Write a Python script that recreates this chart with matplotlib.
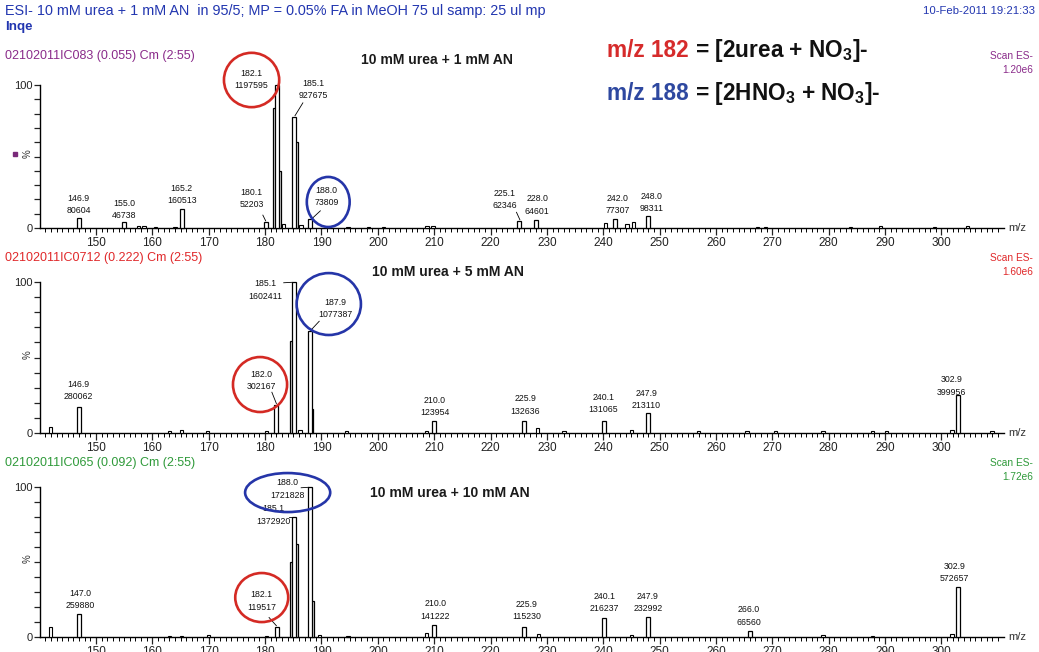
import matplotlib
matplotlib.use('Agg')
import matplotlib.pyplot as plt
from matplotlib.patches import Ellipse

W, H = 1039, 652
plt.rcParams['font.family'] = ['Liberation Sans', 'DejaVu Sans']
plt.rcParams['mathtext.fontset'] = 'custom'
plt.rcParams['mathtext.rm'] = 'Liberation Sans'
plt.rcParams['mathtext.bf'] = 'Liberation Sans:bold'

# ---------------- data ----------------
x_ticks = [150, 160, 170, 180, 190, 200, 210, 220, 230, 240, 250, 260, 270, 280, 290, 300]

p1_mz = [146.9, 155.0, 165.2, 180.1, 182.1, 185.1, 188.0, 225.1, 228.0, 242.0, 248.0]
p1_int = [80604, 46738, 160513, 52203, 1197595, 927675, 73809, 62346, 64601, 77307, 98311]
p1_shoulder_mz = [181.6, 182.6, 185.6]
p1_shoulder_pct = [84, 40, 60]
p1_minor_mz = [157.5, 158.5, 160.5, 164.0, 183.3, 186.4, 194.7, 198.3, 201.0, 208.7, 209.8,
               240.4, 244.2, 245.4, 267.4, 268.8, 283.9, 289.2, 298.8, 304.6]
p1_minor_pct = [1.5, 1.5, 1.0, 1.0, 2.5, 2.0, 1.0, 1.0, 1.0, 1.5, 1.5,
                3.5, 3.0, 4.5, 1.0, 1.0, 1.0, 1.5, 1.0, 1.5]

p2_mz = [146.9, 182.0, 185.1, 187.9, 210.0, 225.9, 240.1, 247.9, 302.9]
p2_int = [280062, 302167, 1602411, 1077387, 123954, 132636, 131065, 213110, 399956]
p2_shoulder_mz = [184.6, 188.4]
p2_shoulder_pct = [61, 16]
p2_minor_mz = [141.9, 163.0, 165.2, 169.8, 180.2, 186.2, 194.4, 208.6, 228.3, 233.0,
               245.0, 256.9, 265.5, 270.6, 279.0, 287.8, 290.2, 301.9, 309.0]
p2_minor_pct = [4.0, 1.5, 2.0, 1.5, 1.5, 2.0, 1.0, 1.5, 3.0, 1.0,
                2.0, 1.0, 1.5, 1.0, 1.0, 1.0, 1.0, 2.0, 1.0]

p3_mz = [147.0, 182.1, 185.1, 188.0, 210.0, 225.9, 240.1, 247.9, 266.0, 302.9]
p3_int = [259880, 119517, 1372920, 1721828, 141222, 115230, 216237, 232992, 66560, 572657]
p3_shoulder_mz = [184.6, 185.6, 188.5]
p3_shoulder_pct = [50, 62, 24]
p3_minor_mz = [141.9, 163.0, 165.2, 170.0, 180.2, 189.7, 194.7, 208.6, 228.5,
               245.0, 279.0, 287.8, 301.9]
p3_minor_pct = [6.5, 1.0, 1.0, 1.5, 1.0, 1.5, 1.0, 3.0, 2.0,
                1.5, 1.5, 1.0, 2.0]

titles = ["10 mM urea + 1 mM AN", "10 mM urea + 5 mM AN", "10 mM urea + 10 mM AN"]
run_ids = ["02102011IC083 (0.055) Cm (2:55)", "02102011IC0712 (0.222) Cm (2:55)",
           "02102011IC065 (0.092) Cm (2:55)"]
scales = ["1.20e6", "1.60e6", "1.72e6"]
header = "ESI- 10 mM urea + 1 mM AN  in 95/5; MP = 0.05% FA in MeOH 75 ul samp: 25 ul mp"
operator = "Inqe"
stamp = "10-Feb-2011 19:21:33"

# ---------------- layout (not data) ----------------
p1_lab = [(146.9, 16.4), (155.0, 12.9), (165.2, 23.4), (177.6, 20.6), (177.6, 104.0),
          (188.6, 96.9), (190.9, 22.0), (222.5, 19.9), (228.3, 16.1), (242.6, 16.4), (248.5, 17.8)]
p1_lead = {3: ((179.6, 9.0), (180.1, 5.0)), 5: ((186.7, 87.5), (185.3, 78.5)),
           6: ((189.8, 12.0), (188.3, 6.5)), 7: ((224.6, 11.0), (225.2, 5.8))}
p1_circ = [((177.6, 103.5), 9.8, 38, '#d42a24'), ((191.2, 18.2), 7.6, 35, '#2535a8')]

p2_lab = [(146.9, 28.1), (179.4, 34.8), (180.1, 94.7), (192.5, 82.5), (210.1, 17.5),
          (226.2, 18.5), (240.0, 19.5), (247.6, 22.2), (301.8, 31.1)]
p2_lead = {1: ((181.2, 27.0), (182.0, 19.5)), 2: ((183.3, 99.5), (184.8, 99.8)),
           3: ((189.6, 74.0), (188.1, 68.0))}
p2_circ = [((179.1, 32.1), 9.6, 36.4, '#d42a24'), ((191.3, 85.4), 11.4, 41, '#2535a8')]

p3_lab = [(147.2, 25.0), (179.4, 24.0), (181.4, 81.3), (184.0, 98.7), (210.2, 18.0),
          (226.4, 17.7), (240.2, 23.0), (247.9, 23.0), (265.8, 14.0), (302.3, 43.0)]
p3_lead = {1: ((180.7, 13.0), (182.0, 7.5)), 2: ((184.2, 80.0), (184.8, 80.0)),
           3: ((186.4, 99.5), (187.7, 99.8))}
p3_circ = [((179.4, 26.3), 9.4, 32.7, '#d42a24'), ((184.0, 96.3), 15.1, 26, '#2535a8')]

panel_colors = ['#8a2b8a', '#e0282a', '#2f9a3a']
header_blue = '#2236b0'

fig = plt.figure(figsize=(W / 100, H / 100), dpi=100)


def fx(px):
    return px / W


def fy(py):
    return 1 - py / H


ax_left, ax_right = 40, 1004
xlim = (140.06, 311.1)
panels_px = [(85, 228), (282, 433), (487, 637)]

panel_data = [
    (p1_mz, p1_int, p1_shoulder_mz, p1_shoulder_pct, p1_minor_mz, p1_minor_pct, p1_lab, p1_lead, p1_circ),
    (p2_mz, p2_int, p2_shoulder_mz, p2_shoulder_pct, p2_minor_mz, p2_minor_pct, p2_lab, p2_lead, p2_circ),
    (p3_mz, p3_int, p3_shoulder_mz, p3_shoulder_pct, p3_minor_mz, p3_minor_pct, p3_lab, p3_lead, p3_circ),
]

axes = []
for i, ((top, bot), (mz, inten, smz, spct, mmz, mpct, labs, leads, circs)) in enumerate(
        zip(panels_px, panel_data)):
    ax = fig.add_axes([fx(ax_left), fy(bot), fx(ax_right - ax_left), (bot - top) / H])
    axes.append(ax)
    base = max(inten)
    pct = [100.0 * v / base for v in inten]
    ax.bar(list(mmz), list(mpct), width=0.6, facecolor='white', edgecolor='black',
           linewidth=0.8, zorder=3, clip_on=False)
    ax.bar(list(smz), list(spct), width=0.32, facecolor='white', edgecolor='black',
           linewidth=0.9, zorder=3, clip_on=False)
    ax.bar(mz, pct, width=0.7, facecolor='white', edgecolor='black',
           linewidth=0.9, zorder=4, clip_on=False)
    ax.set_xlim(*xlim)
    ax.set_ylim(0, 100)
    for s in ['top', 'right']:
        ax.spines[s].set_visible(False)
    ax.spines['left'].set_bounds(0, 100)
    ax.spines['left'].set_linewidth(1.0)
    ax.spines['bottom'].set_linewidth(1.0)
    ax.set_yticks(range(0, 101, 10))
    ax.set_yticklabels(['0'] + [''] * 9 + ['100'])
    ax.set_xticks(x_ticks)
    ax.set_xticks(range(141, 311), minor=True)
    ax.tick_params(axis='x', which='major', length=5, width=0.9, direction='out',
                   labelsize=8.5, pad=1.5, colors='#222222')
    ax.tick_params(axis='x', which='minor', length=3, width=0.7, direction='out')
    ax.tick_params(axis='y', which='major', length=4, width=0.9, direction='out',
                   labelsize=8, pad=1, colors='#222222')
    ax.patch.set_alpha(0)
    ax.text(-0.0125, 0.52, '%', transform=ax.transAxes, rotation=90, fontsize=7,
            ha='center', va='center', color='#333333')
    ax.text(1.004, 0.0, 'm/z', transform=ax.transAxes, fontsize=8, ha='left',
            va='center', color='#333333')
    # peak labels
    for j, (m, v) in enumerate(zip(mz, inten)):
        lx, ly = labs[j]
        ax.text(lx, ly, f"{m:.1f}\n{v}", fontsize=6.3, ha='center', va='center',
                linespacing=1.5, color='#111111', zorder=6, clip_on=False)
        if j in leads:
            (x0, y0), (x1, y1) = leads[j]
            ax.plot([x0, x1], [y0, y1], color='black', lw=0.6, zorder=6, clip_on=False)
    for (cx, cy), w, h, col in circs:
        e = Ellipse((cx, cy), w, h, fill=False, edgecolor=col, linewidth=1.9,
                    zorder=7, clip_on=False)
        ax.add_patch(e)
    # run id, title, scan
    col = panel_colors[i]
    idy = [56, 258, 463][i]
    fig.text(fx(5), fy(idy), run_ids[i], fontsize=9.0, color=col, ha='left', va='center')
    fig.text(fx(1033), fy(idy), 'Scan ES-', fontsize=7.3, color=col, ha='right', va='center')
    fig.text(fx(1033), fy(idy + 14), scales[i], fontsize=7.3, color=col, ha='right', va='center')
    tx, ty = [(361, 60), (372, 272), (370, 493)][i]
    fig.text(fx(tx), fy(ty), titles[i], fontsize=10.1, fontweight='bold', color='#1a1a1a',
             ha='left', va='center')

axes[0].plot([-0.026], [0.52], marker='s', ms=3.5, color='#7a2a7a', transform=axes[0].transAxes,
             clip_on=False)

fig.text(fx(5), fy(11), header, fontsize=10.4, color=header_blue, ha='left', va='center')
fig.text(fx(5), fy(27), operator, fontsize=9.6, color=header_blue, ha='left', va='center',
         fontweight='bold')
fig.text(fx(1035), fy(11), stamp, fontsize=8.2, color=header_blue, ha='right', va='center')

# formula annotations
fig.canvas.draw()
renderer = fig.canvas.get_renderer()
for (lead, rest, col, base_py) in [("m/z 182", r" = [2urea + NO$_\mathbf{3}$]-", '#d62b2b', 57),
                                   ("m/z 188", r" = [2HNO$_\mathbf{3}$ + NO$_\mathbf{3}$]-", '#2e48a0', 100)]:
    t1 = fig.text(fx(607), fy(base_py), lead, fontsize=16.3, fontweight='bold', color=col,
                  ha='left', va='baseline')
    bb = t1.get_window_extent(renderer=renderer)
    fig.text(bb.x1 / W, fy(base_py), rest, fontsize=16.3, fontweight='bold', color='#111111',
             ha='left', va='baseline')

fig.savefig('out.png', dpi=100)
